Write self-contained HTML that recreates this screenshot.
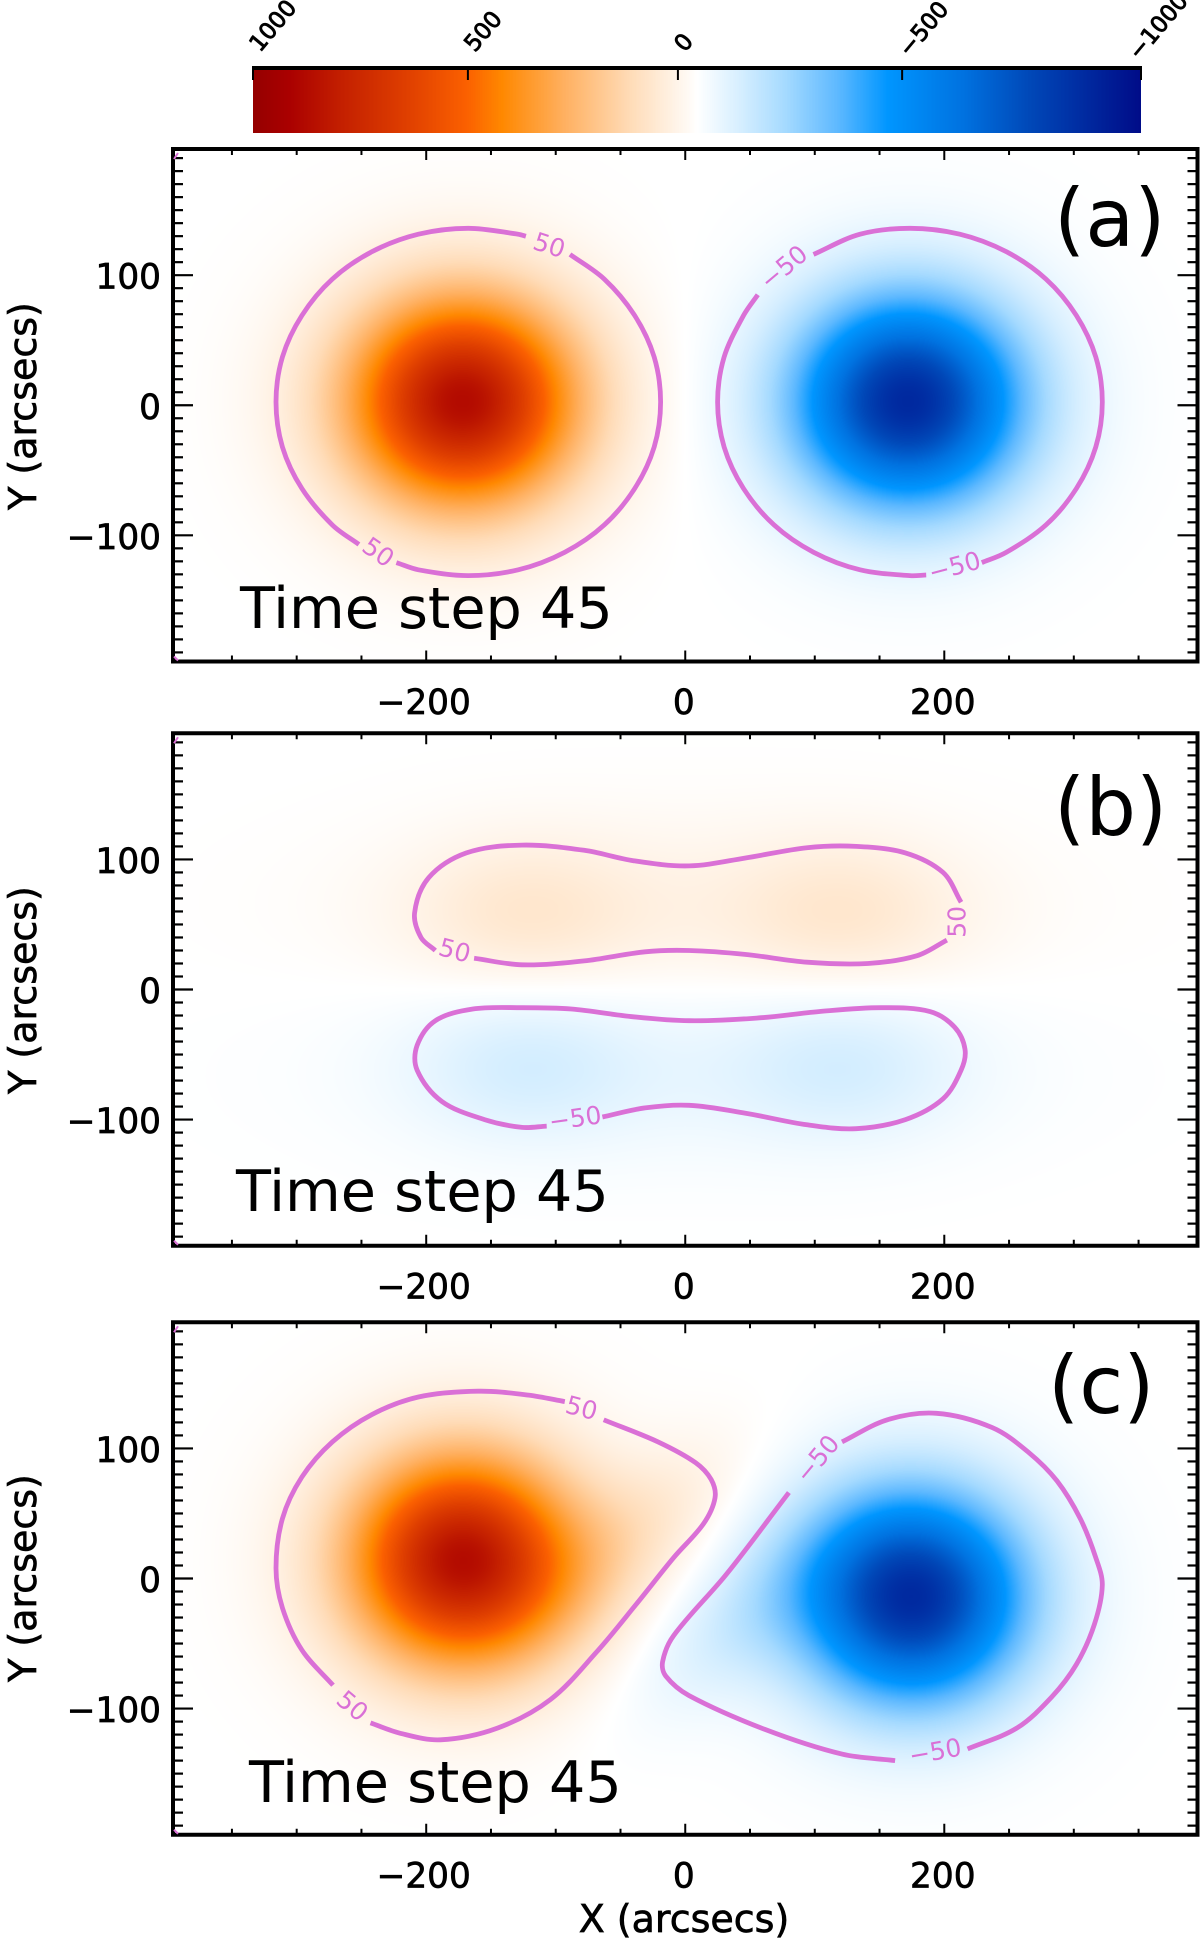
<!DOCTYPE html>
<html lang="en">
<head>
<meta charset="utf-8">
<title>Time step 45 panels</title>
<style>
html,body{margin:0;padding:0;background:#fff;}
#stage{position:relative;width:1200px;height:1942px;overflow:hidden;background:#fff;}
canvas{position:absolute;display:block;}
svg{position:absolute;left:0;top:0;}
text{font-family:"DejaVu Sans","Liberation Sans",sans-serif;fill:#000;}
.tick-label{font-size:34.3px;stroke:#000;stroke-width:.7px;}
.axis-title{font-size:38px;stroke:#000;stroke-width:.7px;}
.time-label{font-size:57.2px;}
.panel-label{font-size:80px;}
.cbar-label{font-size:23px;stroke:#000;stroke-width:.9px;}
.contour-label{font-size:25px;fill:#da70d6;text-anchor:middle;dominant-baseline:central;}
</style>
</head>
<body>
<div id="stage">
<canvas id="cbar-canvas" style="left:253px;top:68px" width="888" height="65"></canvas>
<canvas id="field-a" style="left:173px;top:149px" width="1025" height="513"></canvas>
<canvas id="field-b" style="left:173px;top:733px" width="1025" height="513"></canvas>
<canvas id="field-c" style="left:173px;top:1322px" width="1025" height="513"></canvas>
<svg id="plot" width="1200" height="1942" viewBox="0 0 1200 1942" xmlns="http://www.w3.org/2000/svg">
  <g id="layer-contours"></g>
  <g id="layer-axes"></g>
  <text class="panel-label" x="1054" y="246">(a)</text>
  <text class="panel-label" x="1054" y="835">(b)</text>
  <text class="panel-label" x="1048" y="1413">(c)</text>
  <text class="time-label" x="240" y="628">Time step 45</text>
  <text class="time-label" x="236" y="1211">Time step 45</text>
  <text class="time-label" x="249" y="1802">Time step 45</text>
  <text class="axis-title" transform="translate(36,406) rotate(-90)" text-anchor="middle">Y (arcsecs)</text>
  <text class="axis-title" transform="translate(36,990) rotate(-90)" text-anchor="middle">Y (arcsecs)</text>
  <text class="axis-title" transform="translate(36,1578) rotate(-90)" text-anchor="middle">Y (arcsecs)</text>
  <text class="axis-title" x="684" y="1932" text-anchor="middle">X (arcsecs)</text>
</svg>
</div>
<script>
/* ---------- colour table ---------- */
const colorStopValues = [1000, 920, 800, 650, 520, 440, 300, 150, 20, 1, -1, -20, -100, -200, -320, -430, -600, -750, -1000];
const colorStopColors = ['#950000','#aa0000','#c42000','#e04000','#fb6000','#ff8800','#ffb060','#ffdcb8','#fffaf5','#ffffff','#ffffff','#f7fcff','#d5eeff','#a5daff','#5cb8ff','#0096ff','#0072e0','#0048b8','#000c88'];

/* ---------- colour bar ticks ---------- */
const cbarTickLabels = ['1000', '500', '0', '\u2212500', '\u22121000'];
const cbarTickValues = [1000, 516, 43, -462, -1000];

/* ---------- axis ticks ---------- */
const xMinorTicks = [-350, -300, -250, -200, -150, -100, -50, 0, 50, 100, 150, 200, 250, 300, 350];
const xMajorTicks = [-200, 0, 200];
const xTickLabels = ['\u2212200', '0', '200'];
const yMinorTicks = [-190,-180,-170,-160,-150,-140,-130,-120,-110,-100,-90,-80,-70,-60,-50,-40,-30,-20,-10,0,10,20,30,40,50,60,70,80,90,100,110,120,130,140,150,160,170,180,190];
const yMajorTicks = [-100, 0, 100];
const yTickLabels = ['\u2212100', '0', '100'];

/* ---------- heatmap components (arcsec / field units) ---------- */
const fieldAX = [-172, -172, 172, 172];
const fieldAY = [3, 3, 3, 3];
const fieldASx = [60, 88, 60, 88];
const fieldASy = [55, 80, 55, 80];
const fieldAAngle = [0, 0, 0, 0];
const fieldAPeak = [810, 70, -810, -70];

const fieldBX = [-125, 125, 0, 0, -125, 125, 0, 0];
const fieldBY = [58, 58, 58, 72, -58, -58, -58, -72];
const fieldBSx = [62, 62, 170, 180, 62, 62, 170, 180];
const fieldBSy = [40, 40, 50, 62, 40, 40, 50, 62];
const fieldBAngle = [0, 0, 0, 0, 0, 0, 0, 0];
const fieldBPeak = [72, 72, 38, 7, -72, -72, -38, -7];

const fieldCX = [-172, -172, -40, 175, 175, 40];
const fieldCY = [14, 14, 35, -14, -14, -35];
const fieldCSx = [59, 88, 70, 59, 88, 70];
const fieldCSy = [55, 80, 32, 55, 80, 32];
const fieldCAngle = [0, 0, 38, 0, 0, 38];
const fieldCPeak = [810, 65, 85, -810, -65, -85];

/* ---------- contour polylines (arcsec) ---------- */
const aPosUpperX = [-89,-62.5,-39,-24,-19,-24,-39,-62.5,-93,-129,-167.5,-206,-223];
const aPosUpperY = [116,97,69,37,2.5,-32,-64,-92,-113,-126.5,-131,-126.5,-121];
const aPosLowerX = [-252,-272.5,-296,-311,-316,-311,-296,-272.5,-242,-206,-167.5,-129,-123];
const aPosLowerY = [-107,-92,-64,-32,2.5,37,69,97,118,131.5,136,131.5,130];
const aNegUpperX = [99,135,173.5,212,248,278.5,302,317,322,317,302,278.5,248,229];
const aNegUpperY = [116,131.5,136,131.5,118,97,69,37,2.5,-32,-64,-92,-113,-121];
const aNegLowerX = [186,173.5,135,99,68.5,45,30,25,30,45,56];
const aNegLowerY = [-130.5,-131,-126.5,-113,-92,-64,-32,2.5,37,69,85];

const bPosUpperX = [213,199,170,132,94,46,3,-40,-78,-126,-169,-198,-209,-204,-193];
const bPosUpperY = [67,90,105,110,109,101,95,99,107,111,105,86,59,40,30];
const bPosLowerX = [-163,-126,-78,-31,3,46,94,141,179,202];
const bPosLowerY = [24,19,22,29,30,27,21,20,26,38];
const bNegX = [-64,-31,3,46,94,132,170,199,213,216,208,189,151,103,55,3,-40,-88,-126,-164,-193,-207,-207,-188,-155,-126,-107];
const bNegY = [-98,-91,-89,-95,-104,-107,-100,-84,-62,-46,-29,-17,-14,-17,-22,-24,-21,-15,-14,-15,-24,-43,-62,-86,-100,-106,-105];

const cPosUpperX = [-63,-21,8,20,23,14,-9,-38,-68,-104,-145,-189,-220,-243];
const cPosUpperY = [122,105,89,76,62,42,16,-20,-56,-93,-115,-124,-119,-111];
const cPosLowerX = [-272,-296,-311,-316,-311,-296,-272.5,-242,-206,-160,-121,-93];
const cPosLowerY = [-82,-55,-22.5,8,46,78,105,126,139.5,144,141,136];
const cNegUpperX = [121,156,194,237,265,287,305,317,322,316,302,283,256,218];
const cNegUpperY = [105,122,127,116,97,75,46,16,-5,-35,-66,-91,-115,-131];
const cNegLowerX = [162,121,61.5,3,-15,-17.5,-9,32,80];
const cNegLowerY = [-140,-135,-116,-90,-75,-64,-44,3.5,66];

/* ---------- contour labels ---------- */
const aLabelText = ['50', '50', '\u221250', '\u221250'];
const aLabelX = [-105, -237, 76, 208];
const aLabelY = [123, -113, 106, -124];
const aLabelTilt = [18, 35, -40, -15];
const bLabelText = ['50', '50', '\u221250'];
const bLabelX = [210, -178, -85];
const bLabelY = [52, 30, -99];
const bLabelTilt = [-90, 15, -8];
const cLabelText = ['50', '50', '\u221250', '\u221250'];
const cLabelX = [-80, -257, 102, 193];
const cLabelY = [131, -98, 92, -133];
const cLabelTilt = [15, 40, -50, -10];

/* ---------- axis functions ---------- */
const xDomain = [-395.5, 395.5];
const yDomain = [-197, 197];
const plotLeft = 173, plotRight = 1197.5, plotHeight = 512.5;
const panelTops = [149, 733.25, 1322.25];
const cbarLeft = 253, cbarRight = 1141, cbarTop = 68, cbarBottom = 133;
function xScale(v){ return plotLeft + (v - xDomain[0]) / (xDomain[1] - xDomain[0]) * (plotRight - plotLeft); }
function yScale(top, v){ return top + (yDomain[1] - v) / (yDomain[1] - yDomain[0]) * plotHeight; }
function cbarScale(v){ return cbarLeft + (1000 - v) / 2000 * (cbarRight - cbarLeft); }

/* ---------- helpers ---------- */
const NS = 'http://www.w3.org/2000/svg';
function hexRgb(h){ return [parseInt(h.slice(1,3),16), parseInt(h.slice(3,5),16), parseInt(h.slice(5,7),16)]; }
const stopRgb = colorStopColors.map(hexRgb);
function colorFor(v){
  if (v >= colorStopValues[0]) return stopRgb[0];
  for (let i = 1; i < colorStopValues.length; i++) {
    if (v >= colorStopValues[i]) {
      const t = (v - colorStopValues[i]) / (colorStopValues[i-1] - colorStopValues[i]);
      const a = stopRgb[i], b = stopRgb[i-1];
      return [a[0]+(b[0]-a[0])*t, a[1]+(b[1]-a[1])*t, a[2]+(b[2]-a[2])*t];
    }
  }
  return stopRgb[stopRgb.length-1];
}
function drawField(id, top, xs, ys, sxs, sys, angles, peaks){
  const c = document.getElementById(id);
  const ctx = c.getContext('2d');
  const img = ctx.createImageData(c.width, c.height);
  const n = xs.length;
  const cs = angles.map(a => Math.cos(a*Math.PI/180));
  const sn = angles.map(a => Math.sin(a*Math.PI/180));
  const dx = (xDomain[1]-xDomain[0])/(plotRight-plotLeft);
  const dy = (yDomain[1]-yDomain[0])/plotHeight;
  const canvasTop = Math.floor(top);
  for (let j = 0; j < c.height; j++) {
    const yv = yDomain[1] - (canvasTop + j + .5 - top)*dy;
    for (let i = 0; i < c.width; i++) {
      const xv = xDomain[0] + (i + .5)*dx;
      let val = 0;
      for (let k = 0; k < n; k++) {
        const ux = xv - xs[k], uy = yv - ys[k];
        const p = (ux*cs[k] + uy*sn[k]) / sxs[k];
        const q = (-ux*sn[k] + uy*cs[k]) / sys[k];
        val += peaks[k]*Math.exp(-.5*(p*p+q*q));
      }
      const col = colorFor(val);
      const o = (j*c.width + i)*4;
      img.data[o] = col[0]; img.data[o+1] = col[1]; img.data[o+2] = col[2]; img.data[o+3] = 255;
    }
  }
  ctx.putImageData(img, 0, 0);
}
function smoothPath(px, py){
  let d = 'M' + px[0].toFixed(1) + ' ' + py[0].toFixed(1);
  const n = px.length;
  function tangent(i){
    const a = Math.max(i-1,0), b = Math.min(i+1,n-1);
    const tx = px[b]-px[a], ty = py[b]-py[a];
    const len = Math.hypot(tx,ty) || 1;
    return [tx/len, ty/len];
  }
  for (let i = 0; i < n-1; i++) {
    const seg = Math.hypot(px[i+1]-px[i], py[i+1]-py[i]) / 3;
    const t0 = tangent(i), t1 = tangent(i+1);
    const c1x = px[i] + t0[0]*seg, c1y = py[i] + t0[1]*seg;
    const c2x = px[i+1] - t1[0]*seg, c2y = py[i+1] - t1[1]*seg;
    d += 'C' + c1x.toFixed(1)+' '+c1y.toFixed(1)+' '+c2x.toFixed(1)+' '+c2y.toFixed(1)+' '+px[i+1].toFixed(1)+' '+py[i+1].toFixed(1);
  }
  return d;
}
const contourLayer = document.getElementById('layer-contours');
const axisLayer = document.getElementById('layer-axes');
function addContour(panel, top, xs, ys){
  const p = document.createElementNS(NS, 'path');
  p.setAttribute('d', smoothPath(xs.map(xScale), ys.map(v => yScale(top, v))));
  p.setAttribute('fill', 'none');
  p.setAttribute('stroke', '#da70d6');
  p.setAttribute('stroke-width', '4.8');
  
  
  contourLayer.appendChild(p);
}
function addContourLabels(top, texts, xs, ys, tilts){
  texts.forEach(function(label, i){
    const t = document.createElementNS(NS, 'text');
    t.setAttribute('class', 'contour-label');
    t.setAttribute('transform', 'translate(' + xScale(xs[i]).toFixed(1) + ',' + yScale(top, ys[i]).toFixed(1) + ') rotate(' + tilts[i] + ')');
    
    
    t.textContent = label;
    contourLayer.appendChild(t);
  });
}
function tickLine(x1, y1, x2, y2, w){
  const l = document.createElementNS(NS, 'line');
  l.setAttribute('x1', x1); l.setAttribute('y1', y1);
  l.setAttribute('x2', x2); l.setAttribute('y2', y2);
  l.setAttribute('stroke', '#000');
  l.setAttribute('stroke-width', w);
  return l;
}
function drawAxes(top){
  const bottom = top + plotHeight;
  xMinorTicks.forEach(function(v){
    const major = xMajorTicks.indexOf(v) >= 0;
    const len = major ? 11 : 6;
    const x = xScale(v);
    const a = tickLine(x, top, x, top + len, 2);
    
    
    axisLayer.appendChild(a);
    const b = tickLine(x, bottom, x, bottom - len, 2);
    
    
    axisLayer.appendChild(b);
  });
  yMinorTicks.forEach(function(v){
    const major = yMajorTicks.indexOf(v) >= 0;
    const len = major ? 20 : 10;
    const y = yScale(top, v);
    const a = tickLine(plotLeft, y, plotLeft + len, y, 2.2);
    
    
    axisLayer.appendChild(a);
    const b = tickLine(plotRight, y, plotRight - len, y, 2.2);
    
    
    axisLayer.appendChild(b);
  });
  const frame = document.createElementNS(NS, 'rect');
  frame.setAttribute('x', plotLeft);
  frame.setAttribute('y', top);
  frame.setAttribute('width', plotRight - plotLeft);
  frame.setAttribute('height', plotHeight);
  frame.setAttribute('fill', 'none');
  frame.setAttribute('stroke', '#000');
  frame.setAttribute('stroke-width', '4');
  
  
  axisLayer.appendChild(frame);
  const m1 = document.createElementNS(NS, 'path');
  m1.setAttribute('d', 'M174 ' + (top + 10) + 'L178 ' + (top + 4));
  m1.setAttribute('stroke', '#da70d6');
  m1.setAttribute('stroke-width', '2');
  
  
  axisLayer.appendChild(m1);
  const m2 = document.createElementNS(NS, 'path');
  m2.setAttribute('d', 'M174 ' + (bottom - 5) + 'L178 ' + (bottom - 1));
  m2.setAttribute('stroke', '#da70d6');
  m2.setAttribute('stroke-width', '2');
  
  
  axisLayer.appendChild(m2);
  xMajorTicks.forEach(function(v, i){
    const t = document.createElementNS(NS, 'text');
    t.setAttribute('class', 'tick-label');
    t.setAttribute('x', xScale(v) - (v < 0 ? 2.5 : 1.5));
    t.setAttribute('y', bottom + 52.5);
    t.setAttribute('text-anchor', 'middle');
    
    
    t.textContent = xTickLabels[i];
    axisLayer.appendChild(t);
  });
  yMajorTicks.forEach(function(v, i){
    const t = document.createElementNS(NS, 'text');
    t.setAttribute('class', 'tick-label');
    t.setAttribute('x', 161);
    t.setAttribute('y', yScale(top, v) + 13.5);
    t.setAttribute('text-anchor', 'end');
    
    
    t.textContent = yTickLabels[i];
    axisLayer.appendChild(t);
  });
}

/* ---------- colour bar ---------- */
(function(){
  const c = document.getElementById('cbar-canvas');
  const ctx = c.getContext('2d');
  for (let i = 0; i < c.width; i++) {
    const v = 1000 - (i + .5) / c.width * 2000;
    const col = colorFor(v);
    ctx.fillStyle = 'rgb(' + Math.round(col[0]) + ',' + Math.round(col[1]) + ',' + Math.round(col[2]) + ')';
    ctx.fillRect(i, 0, 1, c.height);
  }
  const topLine = tickLine(cbarLeft - 1, cbarTop, cbarRight + 1, cbarTop, 4);
  
  
  axisLayer.appendChild(topLine);
  cbarTickValues.forEach(function(v, i){
    const x = cbarScale(v);
    const tk = tickLine(x, cbarTop, x, cbarTop + 12, 2);
    
    
    axisLayer.appendChild(tk);
    const t = document.createElementNS(NS, 'text');
    t.setAttribute('class', 'cbar-label');
    const label = cbarTickLabels[i];
    const ly = 53 + (v < 0 ? 5 : 0) + (label.length > 4 ? 3 : 0);
    const lx = x + 7 - (label.length > 4 ? 9 : 0);
    t.setAttribute('transform', 'translate(' + lx.toFixed(1) + ',' + ly + ') rotate(-50)');
    
    
    t.textContent = label;
    axisLayer.appendChild(t);
  });
})();

/* ---------- panels ---------- */
drawField('field-a', panelTops[0], fieldAX, fieldAY, fieldASx, fieldASy, fieldAAngle, fieldAPeak);
drawField('field-b', panelTops[1], fieldBX, fieldBY, fieldBSx, fieldBSy, fieldBAngle, fieldBPeak);
drawField('field-c', panelTops[2], fieldCX, fieldCY, fieldCSx, fieldCSy, fieldCAngle, fieldCPeak);

addContour('a', panelTops[0], aPosUpperX, aPosUpperY);
addContour('a', panelTops[0], aPosLowerX, aPosLowerY);
addContour('a', panelTops[0], aNegUpperX, aNegUpperY);
addContour('a', panelTops[0], aNegLowerX, aNegLowerY);
addContourLabels(panelTops[0], aLabelText, aLabelX, aLabelY, aLabelTilt);

addContour('b', panelTops[1], bPosUpperX, bPosUpperY);
addContour('b', panelTops[1], bPosLowerX, bPosLowerY);
addContour('b', panelTops[1], bNegX, bNegY);
addContourLabels(panelTops[1], bLabelText, bLabelX, bLabelY, bLabelTilt);

addContour('c', panelTops[2], cPosUpperX, cPosUpperY);
addContour('c', panelTops[2], cPosLowerX, cPosLowerY);
addContour('c', panelTops[2], cNegUpperX, cNegUpperY);
addContour('c', panelTops[2], cNegLowerX, cNegLowerY);
addContourLabels(panelTops[2], cLabelText, cLabelX, cLabelY, cLabelTilt);

panelTops.forEach(drawAxes);
</script>
</body>
</html>
